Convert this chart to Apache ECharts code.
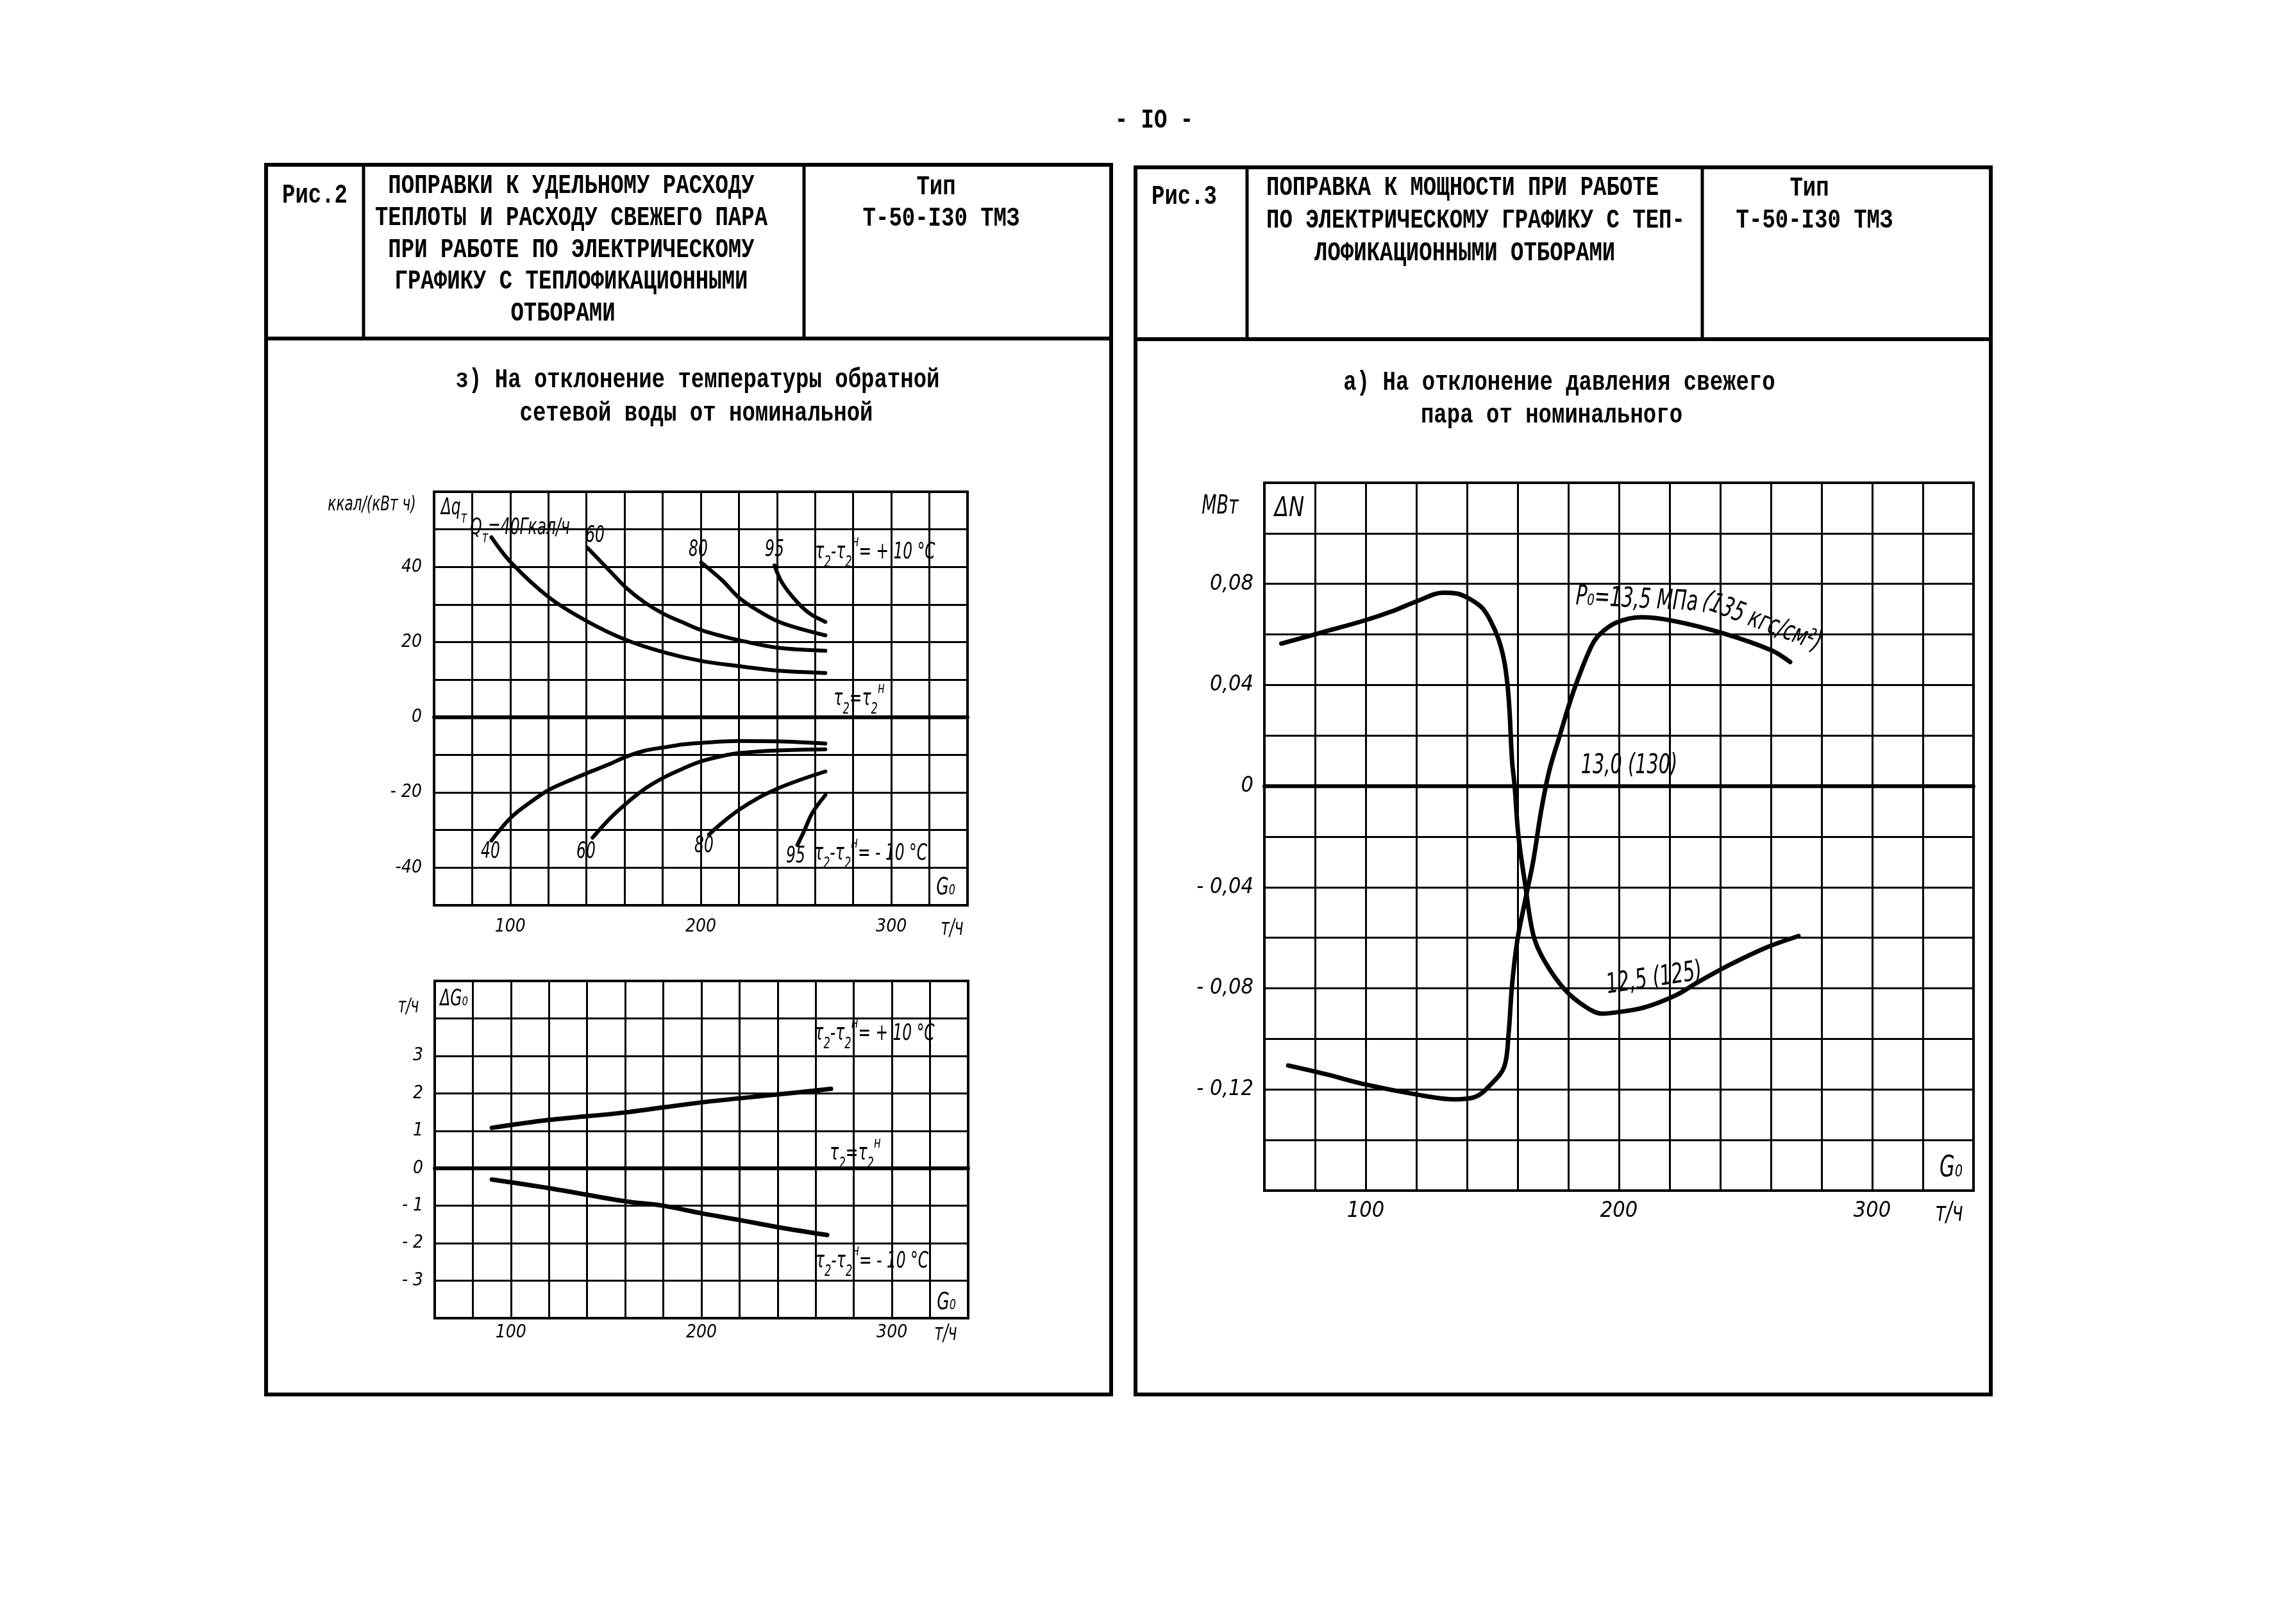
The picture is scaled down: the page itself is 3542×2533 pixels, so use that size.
<!DOCTYPE html>
<html><head><meta charset="utf-8">
<script src="https://cdn.jsdelivr.net/npm/echarts@6/dist/echarts.min.js"></script>
<style>html,body{margin:0;padding:0;background:#fff}#c{width:3542px;height:2533px}</style>
</head><body><div id="c"></div>
<script>
// ---------- data ----------
const xTickLabels = [100, 200, 300];
const qTickValues = [40, 20, 0, -20, -40];
const qTickText = ['40', '20', '0', '- 20', '-40'];
const gTickValues = [3, 2, 1, 0, -1, -2, -3];
const gTickText = ['3', '2', '1', '0', '- 1', '- 2', '- 3'];
const nTickValues = [0.08, 0.04, 0, -0.04, -0.08, -0.12];
const nTickText = ['0,08', '0,04', '0', '- 0,04', '- 0,08', '- 0,12'];

// Δq_T, τ2-τ2н = +10°C
const q40Plus = [[90.1,47.9],[100.7,41.0],[120.6,31.8],[140.5,25.5],[160.7,20.6],[180.6,17.3],[200.2,15.0],[220.1,13.6],[240.5,12.4],[265.4,11.8]];
const q60Plus = [[140.5,45.1],[152.3,38.9],[160.7,34.5],[170.4,30.6],[180.6,27.5],[190.8,25.2],[200.2,23.2],[211.1,21.6],[220.1,20.5],[240.5,18.5],[265.4,17.7]];
const q80Plus = [[200.2,41.2],[211.1,36.5],[220.1,31.8],[230.3,28.3],[240.5,25.5],[251.8,23.6],[265.4,21.8]];
const q95Plus = [[238.7,40.4],[242.8,35.7],[250.7,30.6],[257.5,27.5],[265.4,25.4]];
// Δq_T, τ2-τ2н = -10°C
const q40Minus = [[90.1,-32.8],[100.7,-26.5],[111.6,-22.2],[120.6,-19.2],[129.7,-17.1],[140.5,-14.8],[152.3,-12.4],[160.7,-10.5],[170.4,-8.9],[180.6,-8.0],[190.8,-7.2],[200.2,-6.8],[220.1,-6.3],[240.5,-6.4],[265.4,-7.0]];
const q60Minus = [[143.2,-32.0],[152.3,-26.9],[160.7,-23.0],[170.4,-19.1],[180.6,-16.0],[190.8,-13.6],[200.2,-11.7],[211.1,-10.3],[220.1,-9.5],[240.5,-8.8],[265.4,-8.5]];
const q80Minus = [[204.3,-31.2],[211.1,-28.1],[220.1,-24.6],[230.3,-21.4],[240.5,-18.9],[251.8,-16.7],[265.4,-14.4]];
const q95Minus = [[250.7,-34.0],[254.1,-30.4],[258.6,-25.4],[265.4,-20.7]];
const qNominal = [[60,0],[340,0]];

// ΔG0
const gPlus = [[90,1.08],[120,1.29],[160,1.49],[200,1.76],[240,1.97],[268,2.12]];
const gMinus = [[90,-0.30],[120,-0.53],[160,-0.88],[180,-1.0],[200,-1.2],[220,-1.38],[240,-1.57],[266,-1.78]];
const gNominal = [[60,0],[340,0]];

// ΔN
const n125 = [[66.7,0.0564],[84.5,0.0613],[99.8,0.0656],[110,0.069],[120.1,0.0731],[130.6,0.0765],[136,0.0762],[141,0.0741],[146,0.0705],[149.4,0.0652],[152.5,0.058],[154.7,0.0495],[156,0.040],[156.8,0.0298],[157.8,0.010],[158.8,0.0002],[160.3,-0.0195],[163,-0.039],[166.2,-0.0589],[170.4,-0.0688],[178.7,-0.0806],[187.1,-0.0875],[193.4,-0.090],[199.7,-0.0894],[210.2,-0.0875],[222.7,-0.0826],[231.1,-0.0776],[243.7,-0.0707],[258.3,-0.0638],[270.9,-0.0593]];
const n135 = [[69.4,-0.1105],[84.5,-0.114],[99.8,-0.118],[120.1,-0.122],[134.8,-0.1239],[143.1,-0.123],[149.4,-0.118],[154.7,-0.111],[156.4,-0.0983],[157.8,-0.0786],[159.9,-0.0609],[163,-0.0451],[166.2,-0.0294],[169.3,-0.0097],[172.5,0.0061],[176.6,0.0199],[182.3,0.0382],[188.9,0.0549],[192.4,0.060],[198.7,0.0646],[208.8,0.0668],[220.8,0.0655],[241,0.0605],[260.3,0.0537],[267.6,0.0491]];
const n130 = [[60,0],[340,0]];

// ---------- styling ----------
const MONO = "'Liberation Mono','DejaVu Sans Mono',monospace";
const DRAFT = "'Liberation Sans Narrow','DejaVu Sans Condensed','Roboto Condensed','DejaVu Sans',sans-serif";
const K = '#000';

function xAx(gi, fs, margin) {
  return {gridIndex: gi, type: 'value', min: 60, max: 340, interval: 20,
    axisLine: {show: true, onZero: false, lineStyle: {color: K, width: 4}},
    axisTick: {show: false},
    splitLine: {show: true, lineStyle: {color: K, width: 3}},
    axisLabel: {margin: margin, fontSize: fs, fontStyle: 'italic', fontFamily: DRAFT, color: K,
      formatter: v => xTickLabels.indexOf(Math.round(v)) >= 0 ? String(Math.round(v)) : ''}};
}
function yAx(gi, min, max, interval, vals, texts, fs, margin, scale) {
  return {gridIndex: gi, type: 'value', min: min, max: max, interval: interval,
    axisLine: {show: true, onZero: false, lineStyle: {color: K, width: 4}},
    axisTick: {show: false},
    splitLine: {show: true, lineStyle: {color: K, width: 3}},
    axisLabel: {margin: margin, fontSize: fs, fontStyle: 'italic', fontFamily: DRAFT, color: K,
      formatter: v => { const i = vals.findIndex(t => Math.round(t * scale) === Math.round(v * scale)); return i >= 0 ? texts[i] : ''; }}};
}
function ln(data, xi, w) {
  return {type: 'line', xAxisIndex: xi, yAxisIndex: xi, data: data, smooth: 0.35, showSymbol: false, symbol: 'none',
    lineStyle: {color: K, width: w, cap: 'round', join: 'round'}, silent: true, animation: false, z: 5};
}
function T(text, x, y, o) {
  o = o || {};
  return {type: 'text', x: x, y: y, rotation: o.rot || 0, scaleX: 1, scaleY: o.sy || 1.35, z: 20,
    style: {text: text, fill: K, fontSize: o.fs || 26, fontFamily: o.ff || DRAFT,
      fontStyle: o.fst || 'italic', fontWeight: o.fw || 'normal',
      align: o.al || 'center', textAlign: o.al || 'center', verticalAlign: 'middle', textVerticalAlign: 'middle',
      rich: o.rich}};
}
function richSet(fs) {
  return {m: {fontSize: fs, fontStyle: 'italic', fontFamily: DRAFT, fill: K, lineHeight: fs * 1.6, verticalAlign: 'middle'},
    s: {fontSize: fs * 0.7, fontStyle: 'italic', fontFamily: DRAFT, fill: K, lineHeight: fs * 0.75, verticalAlign: 'bottom'},
    u: {fontSize: fs * 0.7, fontStyle: 'italic', fontFamily: DRAFT, fill: K, lineHeight: fs * 0.75, verticalAlign: 'top'}};
}
function H(text, x, y, al) {
  return T(text, x, y, {ff: MONO, fst: 'normal', fw: 'bold', fs: 34, al: al || 'center', sy: 1.25});
}
function L(x1, y1, x2, y2, w) {
  return {type: 'line', z: 10, shape: {x1: x1, y1: y1, x2: x2, y2: y2}, style: {stroke: K, lineWidth: w || 5}};
}
const R26 = richSet(26);
const tauPlus = '{m|τ}{s|2}{m|-τ}{s|2}{u|н}{m|= + 10 °C}';
const tauMinus = '{m|τ}{s|2}{m|-τ}{s|2}{u|н}{m|= - 10 °C}';
const tauNom = '{m|τ}{s|2}{m|=τ}{s|2}{u|н}';

const graphics = [
  // page number
  H('- IO -', 1800, 188),
  // left frame
  {type: 'rect', z: 10, shape: {x: 415, y: 257, width: 1318, height: 1918}, style: {fill: 'none', stroke: K, lineWidth: 6}},
  L(415, 528, 1733, 528, 6), L(567, 257, 567, 528), L(1254, 257, 1254, 528),
  H('Рис.2', 491, 305),
  H('ПОПРАВКИ К УДЕЛЬНОМУ РАСХОДУ', 891, 290),
  H('ТЕПЛОТЫ И РАСХОДУ СВЕЖЕГО ПАРА', 891, 340),
  H('ПРИ РАБОТЕ ПО ЭЛЕКТРИЧЕСКОМУ', 891, 390),
  H('ГРАФИКУ С ТЕПЛОФИКАЦИОННЫМИ', 891, 439),
  H('ОТБОРАМИ', 878, 489),
  H('Тип', 1460, 292),
  H('Т-50-I30 ТМЗ', 1468, 341),
  H('з) На отклонение температуры обратной', 1088, 593),
  H('сетевой воды от номинальной', 1086, 645),
  // right frame
  {type: 'rect', z: 10, shape: {x: 1771, y: 261, width: 1334, height: 1914}, style: {fill: 'none', stroke: K, lineWidth: 6}},
  L(1771, 529, 3105, 529, 6), L(1945, 261, 1945, 529), L(2655, 261, 2655, 529),
  H('Рис.3', 1847, 307),
  H('ПОПРАВКА К МОЩНОСТИ ПРИ РАБОТЕ', 1975, 293, 'left'),
  H('ПО ЭЛЕКТРИЧЕСКОМУ ГРАФИКУ С ТЕП-', 1975, 344, 'left'),
  H('ЛОФИКАЦИОННЫМИ ОТБОРАМИ', 2050, 395, 'left'),
  H('Тип', 2822, 294),
  H('Т-50-I30 ТМЗ', 2830, 344),
  H('а) На отклонение давления свежего', 2432, 597),
  H('пара от номинального', 2420, 648),

  // left top chart annotations
  T('ккал/(кВт ч)', 580, 788, {fs: 24}),
  T('{m|Δq}{s|т}', 708, 793, {rich: R26}),
  T('{m|Q}{s|т}{m|=40Гкал/ч}', 811, 824, {rich: R26}),
  T('60', 928, 836), T('80', 1089, 858), T('95', 1208, 858),
  T(tauPlus, 1365, 862, {rich: R26}),
  T(tauNom, 1340, 1091, {rich: R26}),
  T('40', 765, 1329), T('60', 914, 1329), T('80', 1098, 1320), T('95', 1241, 1336),
  T(tauMinus, 1358, 1332, {rich: R26}),
  T('G₀', 1475, 1385, {fs: 28}),
  T('т/ч', 1485, 1449, {fs: 26}),

  // left bottom chart annotations
  T('т/ч', 637, 1571, {fs: 24}),
  T('ΔG₀', 708, 1559, {fs: 26}),
  T(tauPlus, 1364, 1613, {rich: R26}),
  T(tauNom, 1334, 1800, {rich: R26}),
  T(tauMinus, 1360, 1968, {rich: R26}),
  T('G₀', 1476, 2032, {fs: 28}),
  T('т/ч', 1475, 2081, {fs: 26}),

  // right chart annotations
  T('МВт', 1903, 790, {fs: 30}),
  T('ΔN', 2011, 794, {fs: 36, sy: 1.2}),
  T('P₀=13,5 МПа', 2553, 936, {fs: 32, rot: -0.05}),
  T('(135 кгс/см²)', 2748, 971, {fs: 32, rot: -0.36}),
  T('13,0 (130)', 2541, 1195, {fs: 32}),
  T('12,5 (125)', 2580, 1527, {fs: 32, rot: 0.15}),
  T('G₀', 3043, 1823, {fs: 34}),
  T('т/ч', 3040, 1893, {fs: 32})
];

const option = {
  backgroundColor: '#fff',
  animation: false,
  grid: [
    {left: 677, top: 767, width: 832, height: 645, show: true, borderColor: K, borderWidth: 4, containLabel: false},
    {left: 678, top: 1530, width: 832, height: 526, show: true, borderColor: K, borderWidth: 4, containLabel: false},
    {left: 1972, top: 753, width: 1106, height: 1104, show: true, borderColor: K, borderWidth: 4, containLabel: false}
  ],
  xAxis: [xAx(0, 28, 20), xAx(1, 28, 9), xAx(2, 34, 15)],
  yAxis: [
    yAx(0, -50, 60, 10, qTickValues, qTickText, 28, 19, 1),
    yAx(1, -4, 5, 1, gTickValues, gTickText, 28, 18, 1),
    yAx(2, -0.16, 0.12, 0.02, nTickValues, nTickText, 34, 17, 100)
  ],
  series: [
    ln(q40Plus, 0, 6), ln(q60Plus, 0, 6), ln(q80Plus, 0, 6), ln(q95Plus, 0, 6),
    ln(q40Minus, 0, 6), ln(q60Minus, 0, 6), ln(q80Minus, 0, 6), ln(q95Minus, 0, 6),
    ln(qNominal, 0, 6),
    ln(gPlus, 1, 7), ln(gMinus, 1, 7), ln(gNominal, 1, 6),
    ln(n125, 2, 7), ln(n135, 2, 7), ln(n130, 2, 6)
  ],
  graphic: {elements: graphics}
};
const chart = echarts.init(document.getElementById('c'), null, {renderer: 'canvas'});
chart.setOption(option);
</script>
</body></html>
